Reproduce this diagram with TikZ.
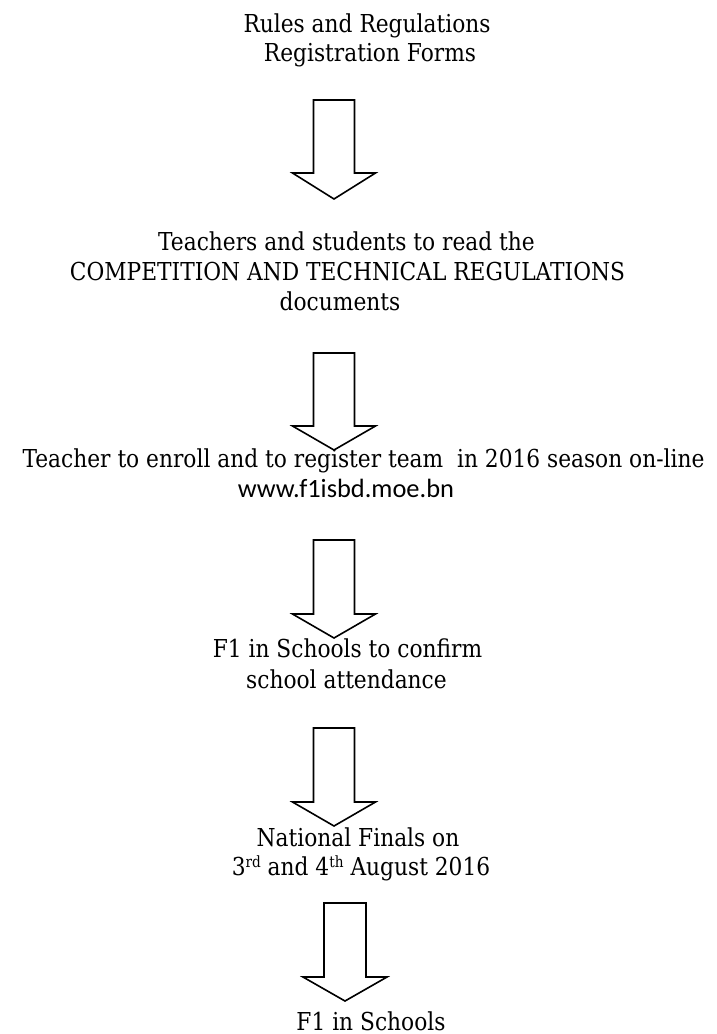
\documentclass[tikz,border=0pt]{standalone}
\usepackage{fontspec}
\setmainfont[FakeStretch=0.88]{DejaVu Serif}
\newfontfamily\urlfont{Carlito}
\newcommand\supr[1]{\raisebox{8pt}{\fontsize{15.5}{16}\selectfont #1}}
\begin{document}
\begin{tikzpicture}[x=1pt,y=-1pt,
  txt/.style={anchor=base, inner sep=0pt, font=\fontsize{24.7}{30}\selectfont},
  urltxt/.style={anchor=base, inner sep=0pt, font=\urlfont\fontsize{26.4}{30}\selectfont},
  blk/.style={draw=black, line width=1.6pt, line join=miter}]
\useasboundingbox (0,0) rectangle (716,1034);
% text
\node[txt] (r1) at (367,32) {Rules and Regulations};
\node[txt] (r2) at (370,61) {Registration Forms};
\node[txt] (t1) at (346.5,250) {Teachers and students to read the};
\node[txt] (t2) at (347.5,280) {COMPETITION AND TECHNICAL REGULATIONS};
\node[txt] (t3) at (340,310) {documents};
\node[txt] (e1) at (363.5,467) {Teacher to enroll and to register team\ \ in 2016 season on-line};
\node[urltxt] (e2) at (346,497) {www.f1isbd.moe.bn};
\node[txt] (c1) at (347.5,657) {F1 in Schools to confirm};
\node[txt] (c2) at (346.5,688) {school attendance};
\node[txt] (n1) at (358,846) {National Finals on};
\node[txt] (n2) at (361,875) {3\supr{rd} and 4\supr{th} August 2016};
\node[txt] (f1) at (371,1030) {F1 in Schools};
% arrows
\coordinate (a1) at (334,100);
\coordinate (a2) at (334,353);
\coordinate (a3) at (334,540);
\coordinate (a4) at (334,728);
\coordinate (a5) at (345,903);
\draw[blk] (a1) ++(-20.5,0) -- ++(41,0) -- ++(0,73) -- ++(21,0) -- ++(-41.5,26) -- ++(-41.5,-26) -- ++(21,0) -- cycle;
\draw[blk] (a2) ++(-20.5,0) -- ++(41,0) -- ++(0,73) -- ++(21,0) -- ++(-41.5,24) -- ++(-41.5,-24) -- ++(21,0) -- cycle;
\draw[blk] (a3) ++(-20.5,0) -- ++(41,0) -- ++(0,74) -- ++(21,0) -- ++(-41.5,24) -- ++(-41.5,-24) -- ++(21,0) -- cycle;
\draw[blk] (a4) ++(-20.5,0) -- ++(41,0) -- ++(0,74) -- ++(21,0) -- ++(-41.5,24) -- ++(-41.5,-24) -- ++(21,0) -- cycle;
\draw[blk] (a5) ++(-21,0) -- ++(42,0) -- ++(0,74) -- ++(21,0) -- ++(-42,24) -- ++(-42,-24) -- ++(21,0) -- cycle;
\end{tikzpicture}
\end{document}
